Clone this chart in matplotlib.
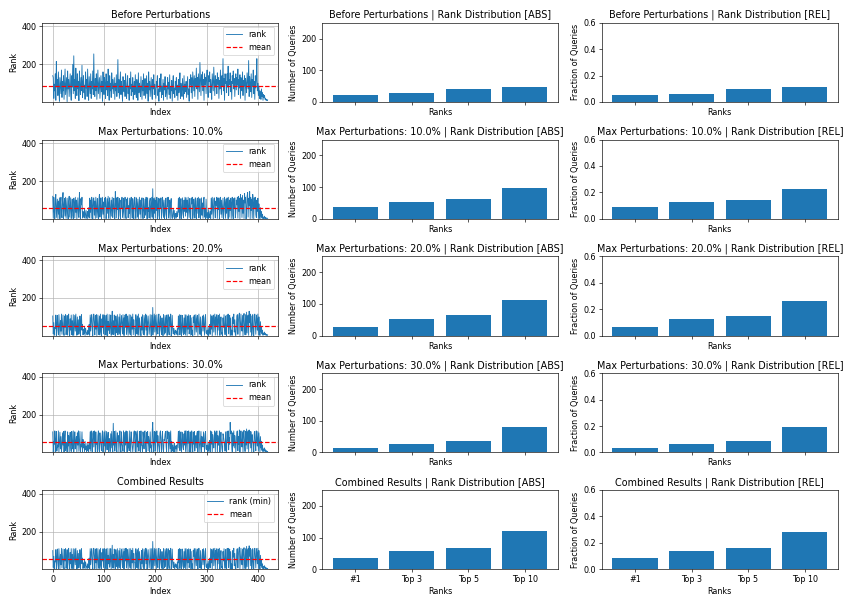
import matplotlib
matplotlib.use("Agg")
import matplotlib.pyplot as plt
import numpy as np

# rank of the correct result for each query (index 0..419)
ranks_before = [
    140, 130, 20, 95, 60, 150, 10, 215, 80, 120, 35, 160, 70, 5, 130, 90, 45, 170, 25, 110,
    60, 140, 15, 100, 175, 40, 85, 130, 3, 165, 70, 120, 30, 95, 150, 55, 10, 140, 80, 200,
    45, 245, 60, 120, 20, 180, 95, 35, 150, 70, 110, 8, 165, 85, 40, 130, 60, 195, 25, 100,
    140, 50, 90, 15, 160, 75, 120, 30, 175, 65, 10, 135, 90, 45, 150, 20, 110, 70, 165, 40,
    255, 85, 30, 125, 60, 150, 15, 100, 170, 45, 90, 130, 20, 75, 140, 55, 110, 5, 160, 80,
    40, 130, 95, 20, 150, 65, 110, 35, 175, 80, 10, 140, 60, 100, 25, 155, 70, 120, 45, 90,
    130, 15, 100, 60, 145, 30, 85, 225, 50, 120, 20, 95, 160, 40, 110, 70, 5, 135, 80, 55,
    115, 30, 150, 65, 20, 100, 140, 45, 85, 10, 125, 70, 160, 35, 95, 55, 130, 15, 80, 110,
    40, 145, 60, 25, 120, 90, 10, 155, 50, 100, 70, 30, 135, 80, 15, 115, 60, 150, 35, 90,
    125, 20, 75, 140, 45, 100, 5, 160, 65, 110, 30, 85, 130, 50, 15, 120, 70, 145, 40, 95,
    60, 20, 110, 80, 140, 35, 70, 5, 125, 55, 95, 150, 25, 85, 40, 120, 10, 100, 65, 135,
    30, 90, 55, 15, 130, 70, 105, 40, 145, 20, 80, 60, 115, 5, 95, 140, 45, 75, 25, 110,
    65, 130, 35, 90, 10, 120, 50, 85, 155, 20, 100, 60, 30, 125, 75, 15, 140, 45, 95, 55,
    110, 25, 80, 135, 40, 70, 5, 120, 90, 145, 50, 130, 20, 160, 105, 60, 140, 30, 125, 85,
    180, 70, 130, 15, 150, 100, 55, 210, 120, 35, 145, 90, 160, 60, 120, 10, 150, 95, 130, 45,
    125, 170, 75, 25, 140, 110, 160, 50, 120, 85, 15, 150, 100, 60, 185, 115, 35, 140, 80, 120,
    45, 155, 95, 130, 20, 115, 70, 170, 100, 40, 140, 85, 230, 60, 125, 10, 150, 100, 110, 50,
    150, 80, 190, 35, 120, 95, 155, 55, 110, 15, 140, 100, 165, 70, 125, 30, 105, 150, 65, 130,
    90, 175, 40, 120, 75, 145, 20, 130, 100, 60, 160, 35, 115, 85, 140, 10, 125, 95, 50, 155,
    110, 70, 220, 30, 135, 100, 55, 150, 25, 120, 85, 170, 45, 110, 15, 140, 75, 125, 230, 60,
    100, 35, 85, 20, 60, 45, 15, 70, 30, 50, 10, 40, 25, 35, 15, 20, 10, 15, 8, 12,
]

ranks_10 = [
    120, 5, 115, 40, 2, 110, 130, 8, 60, 105, 3, 95, 25, 112, 1, 80, 115, 35, 6, 100,
    140, 2, 70, 108, 15, 115, 4, 55, 110, 30, 1, 95, 120, 10, 65, 112, 3, 45, 105, 20,
    2, 110, 85, 6, 115, 35, 100, 1, 60, 112, 25, 8, 140, 50, 3, 108, 75, 115, 5, 40,
    30, 8, 55, 3, 25, 45, 10, 2, 40, 15, 60, 5, 110, 35, 100, 4, 115, 70, 1, 105,
    112, 20, 95, 3, 115, 60, 7, 108, 40, 2, 100, 130, 10, 75, 112, 1, 50, 115, 25, 90,
    5, 110, 65, 115, 2, 45, 108, 30, 120, 4, 85, 112, 1, 55, 100, 15, 115, 8, 70, 110,
    35, 2, 145, 90, 6, 112, 50, 115, 1, 75, 108, 20, 3, 100, 60, 115, 9, 40, 110, 4,
    85, 115, 15, 2, 105, 55, 112, 7, 70, 30, 110, 1, 95, 115, 40, 5, 108, 65, 2, 100,
    115, 45, 3, 112, 80, 10, 105, 1, 60, 115, 25, 100, 4, 85, 112, 35, 2, 110, 50, 8,
    105, 20, 115, 70, 1, 112, 40, 60, 5, 95, 110, 3, 55, 115, 10, 160, 2, 108, 30, 112,
    6, 100, 45, 115, 2, 75, 110, 20, 1, 108, 60, 112, 4, 35, 115, 85, 8, 100, 3, 50,
    110, 25, 2, 112, 65, 115, 5, 40, 100, 1, 85, 108, 15, 3, 30, 55, 10, 45, 2, 20,
    30, 5, 40, 12, 25, 110, 35, 115, 2, 80, 108, 3, 50, 112, 30, 6, 100, 40, 115, 15,
    112, 35, 100, 2, 115, 60, 8, 108, 45, 1, 110, 80, 115, 3, 25, 105, 70, 5, 112, 50,
    2, 95, 110, 30, 115, 6, 65, 108, 1, 40, 112, 20, 85, 4, 100, 115, 10, 55, 2, 105,
    20, 5, 35, 2, 50, 15, 8, 40, 3, 110, 25, 115, 60, 1, 100, 112, 45, 6, 95, 70,
    115, 3, 108, 50, 112, 2, 80, 115, 25, 100, 7, 60, 110, 1, 40, 115, 90, 4, 105, 30,
    112, 65, 2, 115, 10, 100, 45, 110, 3, 85, 115, 20, 1, 108, 55, 112, 6, 35, 100, 75,
    115, 5, 120, 40, 110, 2, 130, 60, 112, 8, 125, 30, 100, 3, 135, 85, 115, 1, 50, 120,
    140, 10, 110, 70, 145, 2, 115, 45, 105, 4, 130, 90, 1, 112, 60, 115, 25, 8, 100, 40,
    110, 3, 80, 30, 2, 60, 15, 40, 5, 25, 2, 10, 4, 15, 2, 8, 3, 5, 2, 4,
]

ranks_20 = [
    105, 10, 70, 3, 45, 40, 110, 2, 65, 108, 30, 5, 112, 50, 1, 80, 25, 115, 8, 60,
    110, 20, 2, 105, 45, 112, 6, 50, 108, 4, 75, 115, 35, 1, 90, 30, 110, 6, 80, 3,
    112, 2, 60, 108, 25, 115, 40, 3, 100, 7, 85, 9, 45, 105, 1, 70, 112, 30, 60, 5,
    35, 10, 50, 2, 40, 20, 15, 5, 30, 8, 45, 60, 3, 110, 25, 95, 112, 40, 1, 100,
    115, 70, 5, 108, 35, 112, 2, 60, 110, 25, 6, 105, 4, 115, 20, 1, 90, 45, 112, 10,
    85, 110, 4, 50, 108, 3, 115, 2, 75, 30, 112, 12, 45, 110, 3, 60, 130, 8, 80, 7,
    110, 40, 1, 105, 70, 15, 112, 5, 30, 100, 9, 115, 2, 55, 108, 65, 10, 112, 3, 95,
    2, 110, 45, 115, 8, 50, 105, 3, 60, 112, 20, 7, 110, 1, 100, 35, 115, 6, 85, 40,
    35, 2, 112, 75, 10, 105, 4, 115, 3, 95, 60, 25, 1, 100, 30, 112, 15, 6, 108, 4,
    90, 115, 30, 110, 2, 70, 105, 60, 8, 45, 112, 40, 1, 110, 5, 150, 5, 65, 115, 20,
    108, 50, 3, 112, 25, 10, 100, 115, 2, 60, 105, 35, 7, 95, 40, 1, 112, 45, 9, 108,
    15, 95, 110, 2, 70, 112, 25, 5, 100, 55, 115, 1, 45, 108, 30, 10, 40, 20, 5, 30,
    15, 25, 8, 40, 3, 105, 35, 112, 5, 70, 110, 2, 45, 108, 18, 6, 95, 10, 112, 4,
    110, 60, 2, 105, 35, 112, 10, 45, 108, 3, 95, 6, 30, 1, 100, 70, 110, 5, 55, 112,
    20, 90, 108, 2, 65, 115, 40, 8, 100, 5, 1, 75, 105, 25, 110, 50, 3, 95, 112, 15,
    10, 30, 5, 45, 2, 25, 60, 8, 112, 35, 105, 1, 90, 110, 20, 70, 115, 4, 100, 55,
    112, 3, 85, 108, 30, 115, 2, 60, 100, 9, 15, 1, 95, 45, 112, 40, 6, 105, 35, 2,
    110, 50, 115, 10, 70, 108, 1, 95, 4, 30, 3, 100, 65, 115, 20, 85, 7, 2, 45, 105,
    112, 8, 75, 110, 120, 2, 60, 115, 40, 25, 108, 1, 100, 118, 40, 5, 112, 6, 125, 15,
    95, 110, 3, 130, 70, 115, 20, 105, 2, 45, 112, 9, 1, 100, 115, 60, 8, 110, 90, 30,
    115, 5, 100, 40, 2, 75, 20, 50, 10, 30, 3, 15, 8, 20, 5, 12, 3, 8, 2, 5,
]

ranks_30 = [
    110, 3, 60, 45, 115, 2, 70, 112, 8, 40, 30, 115, 1, 60, 108, 20, 85, 5, 35, 105,
    40, 112, 2, 75, 115, 10, 50, 55, 3, 110, 35, 90, 1, 80, 108, 25, 6, 112, 45, 20,
    115, 4, 50, 110, 20, 60, 85, 2, 105, 40, 115, 7, 60, 112, 1, 45, 30, 110, 5, 70,
    25, 45, 5, 60, 15, 35, 2, 50, 10, 40, 3, 55, 20, 110, 8, 115, 65, 2, 100, 112,
    30, 115, 75, 5, 110, 45, 50, 1, 90, 115, 20, 3, 105, 60, 40, 10, 85, 115, 2, 50,
    110, 35, 115, 4, 55, 112, 15, 70, 108, 1, 75, 55, 6, 100, 25, 112, 40, 2, 155, 40,
    112, 8, 50, 115, 30, 2, 105, 60, 90, 5, 75, 115, 20, 1, 110, 45, 30, 7, 115, 65,
    3, 108, 40, 115, 65, 2, 112, 25, 55, 10, 115, 55, 1, 110, 70, 40, 4, 35, 105, 115,
    50, 6, 112, 90, 2, 115, 30, 60, 8, 112, 65, 1, 115, 40, 35, 3, 110, 75, 20, 112,
    115, 45, 2, 108, 50, 112, 10, 85, 60, 3, 110, 25, 40, 1, 115, 160, 35, 5, 112, 70,
    8, 110, 55, 115, 3, 90, 45, 30, 1, 105, 115, 45, 6, 80, 112, 20, 2, 70, 65, 100,
    112, 35, 4, 115, 75, 110, 2, 50, 108, 20, 115, 1, 60, 10, 40, 5, 25, 50, 3, 35,
    20, 40, 5, 30, 55, 112, 25, 115, 10, 75, 110, 2, 50, 108, 30, 15, 100, 40, 115, 6,
    115, 60, 3, 112, 50, 115, 5, 40, 110, 2, 70, 115, 30, 1, 108, 45, 112, 8, 55, 90,
    25, 100, 112, 4, 70, 115, 45, 2, 60, 112, 1, 85, 40, 30, 110, 60, 3, 100, 112, 20,
    15, 40, 3, 55, 8, 30, 65, 2, 115, 45, 110, 1, 95, 50, 25, 80, 115, 5, 105, 60,
    115, 2, 90, 40, 40, 115, 3, 70, 108, 50, 20, 1, 100, 85, 60, 50, 8, 110, 35, 4,
    112, 60, 115, 15, 80, 45, 160, 100, 115, 40, 5, 105, 35, 115, 25, 90, 60, 3, 55, 110,
    115, 10, 85, 45, 120, 3, 70, 115, 50, 30, 110, 2, 105, 118, 50, 6, 112, 40, 125, 20,
    100, 115, 5, 120, 50, 112, 25, 110, 3, 95, 60, 55, 2, 105, 112, 40, 10, 115, 70, 35,
    112, 8, 105, 50, 3, 85, 25, 60, 12, 40, 5, 20, 10, 25, 6, 15, 4, 10, 3, 6,
]

ranks_combined = [
    100, 10, 70, 3, 45, 40, 105, 2, 65, 108, 30, 5, 110, 50, 1, 80, 25, 112, 8, 60,
    108, 20, 2, 105, 45, 110, 6, 50, 105, 4, 75, 112, 35, 1, 90, 30, 110, 6, 80, 3,
    110, 2, 60, 108, 25, 112, 40, 3, 100, 7, 85, 9, 45, 105, 1, 70, 110, 30, 60, 5,
    35, 10, 50, 2, 40, 20, 15, 5, 30, 8, 45, 60, 3, 110, 25, 95, 110, 40, 1, 100,
    112, 70, 5, 108, 35, 110, 2, 60, 110, 25, 6, 105, 4, 112, 20, 1, 90, 45, 110, 10,
    85, 110, 4, 50, 108, 3, 112, 2, 75, 30, 110, 12, 45, 110, 3, 60, 128, 8, 80, 7,
    108, 40, 1, 105, 70, 15, 110, 5, 30, 100, 9, 112, 2, 55, 108, 65, 10, 110, 3, 95,
    2, 110, 45, 112, 8, 50, 105, 3, 60, 110, 20, 7, 110, 1, 100, 35, 112, 6, 85, 40,
    35, 2, 110, 75, 10, 105, 4, 112, 3, 95, 60, 25, 1, 100, 30, 110, 15, 6, 108, 4,
    90, 112, 30, 110, 2, 70, 105, 60, 8, 45, 110, 40, 1, 110, 5, 148, 5, 65, 112, 20,
    108, 50, 3, 110, 25, 10, 100, 112, 2, 60, 105, 35, 7, 95, 40, 1, 110, 45, 9, 108,
    15, 95, 110, 2, 70, 110, 25, 5, 100, 55, 112, 1, 45, 108, 30, 10, 40, 20, 5, 30,
    15, 25, 8, 40, 3, 105, 35, 110, 5, 70, 108, 2, 45, 108, 18, 6, 95, 10, 110, 4,
    110, 60, 2, 105, 35, 110, 10, 45, 108, 3, 95, 6, 30, 1, 100, 70, 110, 5, 55, 110,
    20, 90, 108, 2, 65, 112, 40, 8, 100, 5, 1, 75, 105, 25, 110, 50, 3, 95, 110, 15,
    10, 30, 5, 45, 2, 25, 60, 8, 110, 35, 105, 1, 90, 110, 20, 70, 112, 4, 100, 55,
    110, 3, 85, 108, 30, 112, 2, 60, 100, 9, 15, 1, 95, 45, 110, 40, 6, 105, 35, 2,
    110, 50, 112, 10, 70, 108, 1, 95, 4, 30, 3, 100, 65, 112, 20, 85, 7, 2, 45, 105,
    110, 8, 75, 110, 118, 2, 60, 112, 40, 25, 108, 1, 100, 115, 40, 5, 110, 6, 122, 15,
    95, 110, 3, 125, 70, 112, 20, 105, 2, 45, 110, 9, 1, 100, 112, 60, 8, 110, 90, 30,
    112, 5, 100, 40, 2, 75, 20, 50, 10, 30, 3, 15, 8, 20, 5, 12, 3, 8, 2, 5,
]

# rank distribution (number of queries at #1 / top 3 / top 5 / top 10)
rank_labels = ["#1", "Top 3", "Top 5", "Top 10"]
dist_before = [22, 27, 40, 47]
dist_10 = [36, 54, 61, 96]
dist_20 = [28, 52, 64, 111]
dist_30 = [14, 28, 35, 80]
dist_combined = [36, 57, 68, 120]

titles = ["Before Perturbations", "Max Perturbations: 10.0%", "Max Perturbations: 20.0%",
          "Max Perturbations: 30.0%", "Combined Results"]
series = [ranks_before, ranks_10, ranks_20, ranks_30, ranks_combined]
dists = [dist_before, dist_10, dist_20, dist_30, dist_combined]
line_labels = ["rank", "rank", "rank", "rank", "rank (min)"]

n_queries = len(ranks_before)

fig, axes = plt.subplots(5, 3, figsize=(847 / 57.6, 605 / 57.6), dpi=57.6, sharex="col")
fig.subplots_adjust(left=0.0496, right=0.9894, top=0.9625, bottom=0.059,
                    hspace=0.473, wspace=0.184)

for i in range(5):
    ranks = np.array(series[i])
    ax = axes[i, 0]
    ax.plot(np.arange(len(ranks)), ranks, color="C0", linewidth=1.1, label=line_labels[i])
    ax.axhline(ranks.mean(), color="red", linestyle="--", label="mean")
    ax.set_ylim(1, n_queries)
    ax.set_title(titles[i])
    ax.set_xlabel("Index")
    ax.set_ylabel("Rank")
    ax.grid(True)
    ax.legend(loc="upper right")

    counts = np.array(dists[i])
    pos = np.arange(len(rank_labels))

    ax = axes[i, 1]
    ax.bar(pos, counts, color="C0")
    ax.set_ylim(0, 250)
    ax.set_title(titles[i] + " | Rank Distribution [ABS]")
    ax.set_xlabel("Ranks")
    ax.set_ylabel("Number of Queries")

    ax = axes[i, 2]
    ax.bar(pos, counts / n_queries, color="C0")
    ax.set_ylim(0, 0.6)
    ax.set_title(titles[i] + " | Rank Distribution [REL]")
    ax.set_xlabel("Ranks")
    ax.set_ylabel("Fraction of Queries")

for j in (1, 2):
    axes[-1, j].set_xticks(np.arange(len(rank_labels)))
    axes[-1, j].set_xticklabels(rank_labels)

fig.savefig("out.png", dpi=57.6)
